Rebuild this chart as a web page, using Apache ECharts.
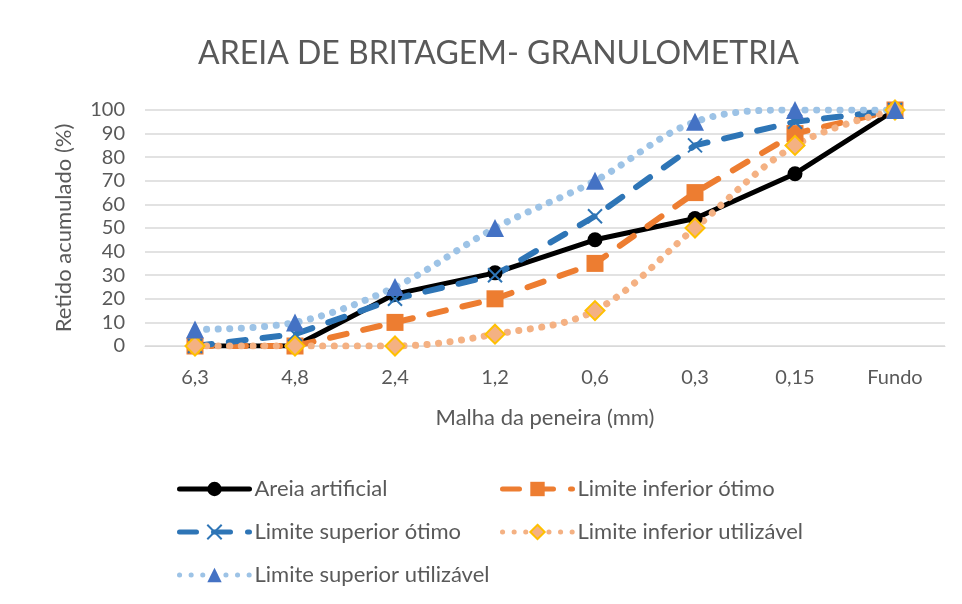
<!DOCTYPE html>
<html>
<head>
<meta charset="utf-8">
<script src="https://cdn.jsdelivr.net/npm/echarts@6/dist/echarts.min.js"></script>
<style>
html,body{margin:0;padding:0;background:#fff;}
#chart{width:962px;height:604px;}
</style>
</head>
<body>
<div id="chart"></div>
<script>
const titleText = 'AREIA DE BRITAGEM- GRANULOMETRIA';
const categories = ['6,3', '4,8', '2,4', '1,2', '0,6', '0,3', '0,15', 'Fundo'];
const yTicks = [0, 10, 20, 30, 40, 50, 60, 70, 80, 90, 100];
const areiaArtificial = [0, 0, 22, 31, 45, 54, 73, 100];
const limInfOtimo = [0, 0, 10, 20, 35, 65, 90, 100];
const limSupOtimo = [0, 5, 20, 30, 55, 85, 95, 100];
const limInfUtil = [0, 0, 0, 5, 15, 50, 85, 100];
const limSupUtil = [7, 10, 25, 50, 70, 95, 100, 100];

const FONT = 'Lato, "Liberation Sans", sans-serif';
const TXT = '#595959';
const chart = echarts.init(document.getElementById('chart'), null, {renderer: 'canvas'});

const legendBase = {
  orient: 'vertical', top: 473, itemGap: 21, itemWidth: 70, itemHeight: 18,
  textStyle: {fontSize: 22, color: TXT, fontFamily: FONT},
  lineStyle: {width: 5, cap: 'round'}
};

chart.setOption({
  animation: false,
  backgroundColor: '#fff',
  textStyle: {fontFamily: FONT, color: TXT},
  title: {
    text: titleText, left: 193, top: 33,
    textStyle: {fontFamily: FONT, fontSize: 32, fontWeight: 'normal', color: TXT}
  },
  grid: {left: 145, right: 17, top: 110, bottom: 258, containLabel: false},
  xAxis: {
    type: 'category', data: categories, boundaryGap: true,
    axisLine: {show: true, lineStyle: {color: '#d9d9d9', width: 1}},
    axisTick: {show: false},
    axisLabel: {fontSize: 20, color: TXT, margin: 22, fontFamily: FONT},
    name: 'Malha da peneira (mm)', nameLocation: 'middle', nameGap: 61,
    nameTextStyle: {fontSize: 22, color: TXT, fontFamily: FONT}
  },
  yAxis: {
    type: 'value', min: yTicks[0], max: yTicks[yTicks.length - 1], interval: 10,
    axisLine: {show: false}, axisTick: {show: false},
    splitLine: {lineStyle: {color: '#d9d9d9', width: 1.5}},
    axisLabel: {fontSize: 20, color: TXT, margin: 20, fontFamily: FONT},
    name: 'Retido acumulado (%)', nameLocation: 'middle', nameGap: 70,
    nameTextStyle: {fontSize: 22, color: TXT, fontFamily: FONT}
  },
  legend: [
    Object.assign({}, legendBase, {
      left: 172,
      data: ['Areia artificial', 'Limite superior ótimo', 'Limite superior utilizável']
    }),
    Object.assign({}, legendBase, {
      left: 495,
      data: ['Limite inferior ótimo', 'Limite inferior utilizável']
    })
  ],
  series: [
    {
      name: 'Areia artificial', type: 'line', data: areiaArtificial,
      symbol: 'circle', symbolSize: 15,
      lineStyle: {color: '#000', width: 5},
      itemStyle: {color: '#000'}
    },
    {
      name: 'Limite inferior ótimo', type: 'line', data: limInfOtimo,
      symbol: 'rect', symbolSize: 17,
      lineStyle: {color: '#ED7D31', width: 6, type: [17, 17], cap: 'round'},
      itemStyle: {color: '#ED7D31'}
    },
    {
      name: 'Limite superior ótimo', type: 'line', data: limSupOtimo,
      symbol: 'path://M0,0L10,10M10,0L0,10', symbolSize: 14,
      lineStyle: {color: '#2E75B6', width: 6, type: [17, 17], cap: 'round'},
      itemStyle: {color: 'rgba(0,0,0,0)', borderColor: '#2E75B6', borderWidth: 2}
    },
    {
      name: 'Limite inferior utilizável', type: 'line', data: limInfUtil,
      symbol: 'diamond', symbolSize: 19, smooth: 0.35,
      lineStyle: {color: '#F4B183', width: 7, type: [0.1, 11.5], cap: 'round'},
      itemStyle: {color: '#F4B183', borderColor: '#FFC000', borderWidth: 2}
    },
    {
      name: 'Limite superior utilizável', type: 'line', data: limSupUtil,
      symbol: 'triangle', symbolSize: 18, smooth: 0.35,
      lineStyle: {color: '#9DC3E6', width: 7, type: [0.1, 11.5], cap: 'round'},
      itemStyle: {color: '#4472C4'}
    }
  ]
});
</script>
</body>
</html>
